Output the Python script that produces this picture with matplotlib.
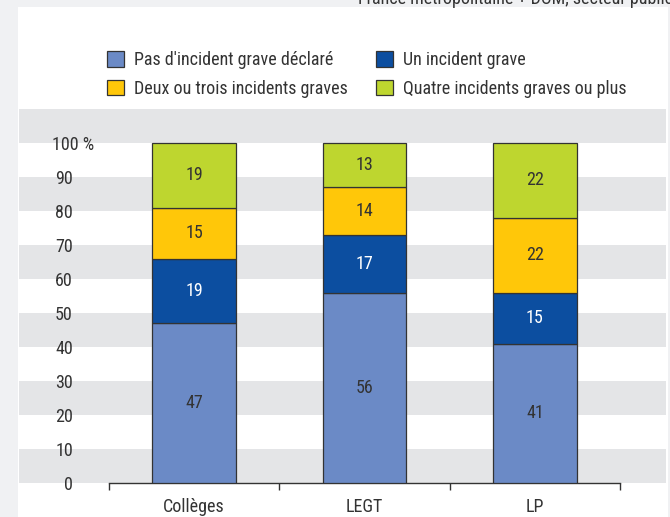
import matplotlib
matplotlib.use("Agg")
import matplotlib.pyplot as plt
from matplotlib import font_manager
from matplotlib.patches import Patch, Rectangle
import matplotlib.transforms as mtransforms
import numpy as np

# pick a narrow font if one is installed (the original uses a condensed face)
names = [f.name for f in font_manager.fontManager.ttflist]
narrow = None
for cand in ['Liberation Sans Narrow', 'Roboto Condensed', 'Open Sans Condensed',
             'DejaVu Sans Condensed', 'Noto Sans Condensed']:
    if cand in names:
        narrow = cand
        break
if narrow is None:
    for f in font_manager.fontManager.ttflist:
        if 'ondensed' in f.name or 'Narrow' in f.name or 'condensed' in str(f.stretch):
            narrow = f.name
            break
if narrow is None:
    narrow = 'Roboto'
plt.rcParams['font.family'] = [narrow, 'DejaVu Sans']

categories = ["Collèges", "LEGT", "LP"]
series_names = ["Pas d'incident grave déclaré", "Un incident grave",
                "Deux ou trois incidents graves", "Quatre incidents graves ou plus"]
aucun = [47, 56, 41]
un = [19, 17, 15]
deux_trois = [15, 14, 22]
quatre_plus = [19, 13, 22]
yticks = [0, 10, 20, 30, 40, 50, 60, 70, 80, 90, 100]
source_note = "France métropolitaine + DOM, secteur public"

colors = ["#6b8ac6", "#0c4ea0", "#ffc709", "#bed62f"]
text_col = "#333333"
fs = 13

W, H = 670, 517
fig = plt.figure(figsize=(W / 100, H / 100), dpi=100)
fig.patch.set_facecolor("#f0f1f3")
# white panel
fig.patches.append(Rectangle((18 / W, 0), 650 / W, 1 - 7 / H, transform=fig.transFigure,
                             facecolor="white", edgecolor="none", zorder=-10))

ax = fig.add_axes([109 / W, 1 - 483 / H, 511 / W, 374 / H])
ax.set_facecolor("none")

# grey bands
for v in range(0, 110, 20):
    ax.axhspan(v, v + 10, xmin=(19 - 109) / 511, xmax=(666 - 109) / 511,
               facecolor="#e4e5e7", edgecolor="none", clip_on=False, zorder=0)

x = np.arange(len(categories))
series = [aucun, un, deux_trois, quatre_plus]
bottom = np.zeros(len(categories))
handles = []
for vals, name, col in zip(series, series_names, colors):
    bars = ax.bar(x, vals, 0.49, bottom=bottom, color=col, edgecolor=text_col,
                  linewidth=0.9, zorder=3, label=name)
    lc = "white" if col == "#0c4ea0" else text_col
    ax.bar_label(bars, labels=[str(v) for v in vals], label_type="center",
                 fontsize=fs, color=lc)
    bottom += np.array(vals)
    handles.append(Patch(facecolor=col, edgecolor=text_col, linewidth=0.9, label=name))

ax.set_xlim(-0.5, 2.5)
ax.set_ylim(0, 110)
for s in ["top", "right", "left"]:
    ax.spines[s].set_visible(False)
ax.spines["bottom"].set_color(text_col)
ax.spines["bottom"].set_linewidth(1)

ax.set_xticks(x)
ax.set_xticklabels(categories, fontsize=fs, color=text_col)
ax.set_xticks([-0.5, 0.5, 1.5, 2.5], minor=True)
ax.tick_params(axis="x", which="major", length=0, pad=11)
ax.tick_params(axis="x", which="minor", length=5, width=1, color=text_col, direction="out")

# the top label "100 %" sits a bit further right than the others
ax.set_yticks(yticks)
ax.set_yticklabels([str(v) if v != 100 else "" for v in yticks], fontsize=fs, color=text_col)
ax.tick_params(axis="y", length=0, pad=26)
trans = mtransforms.blended_transform_factory(ax.transAxes, ax.transData)
ax.text((94 - 109) / 511, 100, "100 %", transform=trans, ha="right",
        va="center_baseline", fontsize=fs, color=text_col)

leg = ax.legend(handles=[handles[0], handles[2], handles[1], handles[3]],
                loc="upper left", bbox_to_anchor=(107 / W, 1 - 51 / H),
                bbox_transform=fig.transFigure, ncol=2, frameon=False,
                fontsize=fs, handlelength=0.95, handleheight=0.95,
                handletextpad=0.55, columnspacing=1.55, labelspacing=0.6,
                borderpad=0, borderaxespad=0)
for t in leg.get_texts():
    t.set_color(text_col)

fig.text(673 / W, 1 - 4 / H, source_note, ha="right", va="baseline",
         fontsize=fs, color=text_col)

fig.savefig("out.png", dpi=100, facecolor=fig.get_facecolor())
